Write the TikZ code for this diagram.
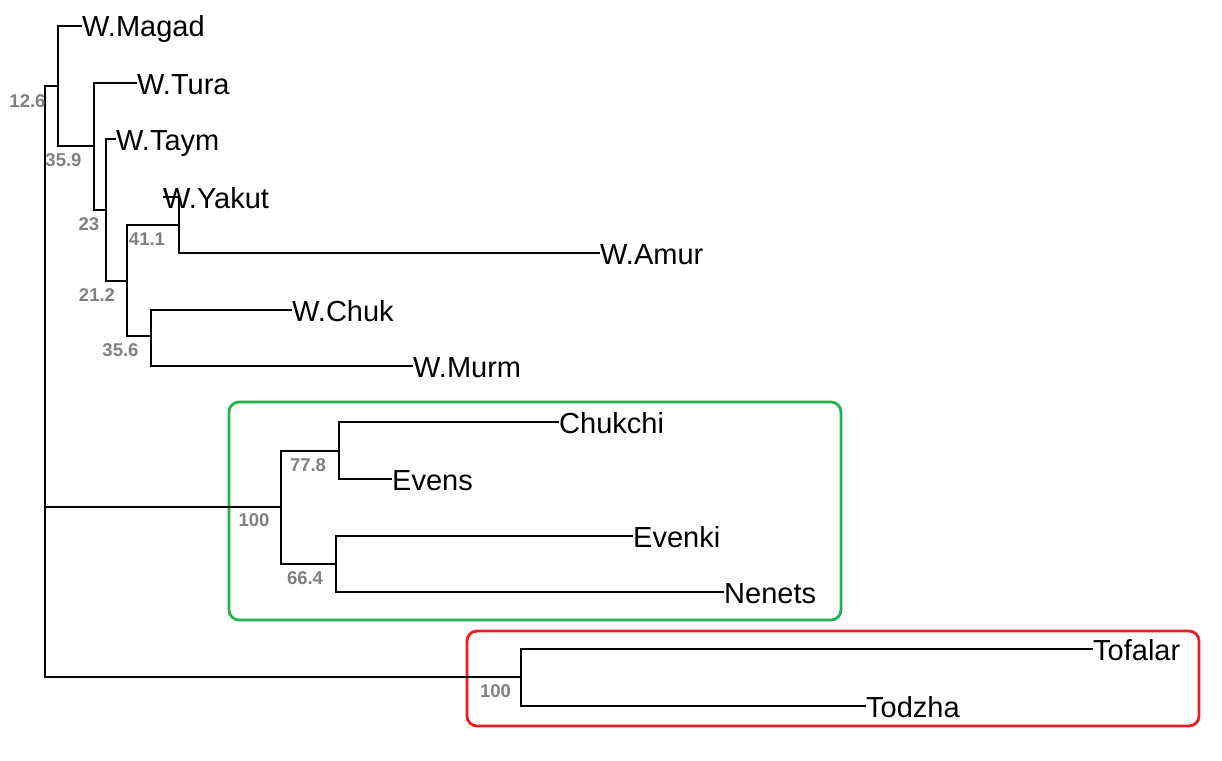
\documentclass[tikz,border=0pt]{standalone}
\usepackage{fontspec}
\setmainfont{Liberation Sans}
\definecolor{boxgreen}{RGB}{34,177,76}
\definecolor{boxred}{RGB}{237,28,36}
\definecolor{bootgray}{RGB}{128,128,128}
\begin{document}
\begin{tikzpicture}[x=1pt,y=-1pt,
  branch/.style={line width=2.3pt,black},
  tiplabel/.style={anchor=base west,inner sep=0pt,yshift=-11pt,font=\fontsize{29}{29}\selectfont},
  boot/.style={anchor=center,inner sep=0pt,text=bootgray,font=\fontsize{18.5}{18.5}\selectfont\bfseries},
  cladebox/.style={line width=2.8pt,rounded corners=10pt}]
\useasboundingbox (0,0) rectangle (1222,760);
% group boxes
\draw[cladebox,boxgreen] (229,402) rectangle (841,620);
\draw[cladebox,boxred] (467,631) rectangle (1199,726);
% internal nodes (vertical x, join y)
\coordinate (root) at (45,507);
\coordinate (nA) at (58,86);
\coordinate (nB) at (94,146);
\coordinate (nC) at (106,210);
\coordinate (nD) at (127,281);
\coordinate (nE) at (179,225);
\coordinate (nF) at (151,336);
\coordinate (nG) at (281,507);
\coordinate (nH) at (339,451);
\coordinate (nI) at (336,564);
\coordinate (nR) at (521,677);
% tips
\coordinate (tMagad) at (82,26);
\coordinate (tTura) at (137,83);
\coordinate (tTaym) at (116,139);
\coordinate (tYakut) at (163,197);
\coordinate (tAmur) at (600,253);
\coordinate (tChuk) at (292,310);
\coordinate (tMurm) at (413,366);
\coordinate (tChukchi) at (559,422);
\coordinate (tEvens) at (392,479);
\coordinate (tEvenki) at (633,536);
\coordinate (tNenets) at (724,592);
\coordinate (tTofalar) at (1093,649);
\coordinate (tTodzha) at (866,706);
% tip labels
\node[tiplabel] (lMagad) at (tMagad) {W.Magad};
\node[tiplabel] (lTura) at (tTura) {W.Tura};
\node[tiplabel] (lTaym) at (tTaym) {W.Taym};
\node[tiplabel] (lYakut) at (tYakut) {W.Yakut};
\node[tiplabel] (lAmur) at (tAmur) {W.Amur};
\node[tiplabel] (lChuk) at (tChuk) {W.Chuk};
\node[tiplabel] (lMurm) at (tMurm) {W.Murm};
\node[tiplabel] (lChukchi) at (tChukchi) {Chukchi};
\node[tiplabel] (lEvens) at (tEvens) {Evens};
\node[tiplabel] (lEvenki) at (tEvenki) {Evenki};
\node[tiplabel] (lNenets) at (tNenets) {Nenets};
\node[tiplabel] (lTofalar) at (tTofalar) {Tofalar};
\node[tiplabel] (lTodzha) at (tTodzha) {Todzha};
% branches
\draw[branch] (nA) -| (root) |- (nR);
\draw[branch] (root) -- (nG);
\draw[branch] (tMagad) -| (nA) |- (nB);
\draw[branch] (tTura) -| (nB) |- (nC);
\draw[branch] (tTaym) -| (nC) |- (nD);
\draw[branch] (nE) -| (nD) |- (nF);
\draw[branch] (tYakut) -| (nE) |- (tAmur);
\draw[branch] (tChuk) -| (nF) |- (tMurm);
\draw[branch] (nH) -| (nG) |- (nI);
\draw[branch] (tChukchi) -| (nH) |- (tEvens);
\draw[branch] (tEvenki) -| (nI) |- (tNenets);
\draw[branch] (tTofalar) -| (nR) |- (tTodzha);
% bootstrap values
\node[boot] (b1) at (27.5,101) {12.6};
\node[boot] (b2) at (63.5,160) {35.9};
\node[boot] (b3) at (89,224) {23};
\node[boot] (b4) at (147,239) {41.1};
\node[boot] (b5) at (97,295) {21.2};
\node[boot] (b6) at (120.5,350) {35.6};
\node[boot] (b7) at (308,465) {77.8};
\node[boot] (b8) at (254,520) {100};
\node[boot] (b9) at (305,578) {66.4};
\node[boot] (b10) at (495.5,691) {100};
\end{tikzpicture}
\end{document}
